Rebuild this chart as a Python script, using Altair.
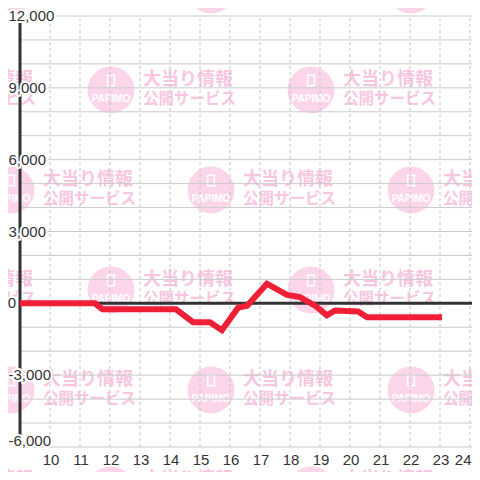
import altair as alt
import pandas as pd

# ---- data ----
hours = [9.0, 11.5, 11.75, 14.2, 14.77, 15.33, 15.73, 16.27, 16.57, 17.23,
         17.9, 18.33, 18.85, 19.23, 19.5, 20.27, 20.57, 23.07]
values = [0, 0, -250, -250, -790, -790, -1120, -180, -100, 820,
          350, 260, -110, -500, -300, -340, -580, -580]
x_ticks = [10, 11, 12, 13, 14, 15, 16, 17, 18, 19, 20, 21, 22, 23, 24]
y_grid = [-6000, -5000, -4000, -3000, -2000, -1000, 0, 1000, 2000, 3000,
          4000, 5000, 6000, 7000, 8000, 9000, 10000, 11000, 12000]
y_labels = [12000, 9000, 6000, 3000, 0, -3000, -6000]
wm_line1 = "大当り情報"
wm_line2 = "公開サービス"
wm_logo = "PAPIMO"

FONT = "Liberation Sans"
FS = 15

# ---- layout ----
W = H = 464
PPH = 30.0                 # px per hour
X0 = 9 - 12 / PPH
X1 = X0 + W / PPH
PPK = 431 / 18.0           # px per 1000
Y1 = 12000 + 8 / PPK * 1000
Y0 = Y1 - H / PPK * 1000

xs = alt.Scale(domain=[X0, X1], nice=False, zero=False)
ys = alt.Scale(domain=[Y0, Y1], nice=False, zero=False)

# ---- watermark tiles (background decoration) ----
tiles = []
for r, py in enumerate([-10, 90, 190, 290, 390, 490]):
    pxs = [11, 211, 411] if r % 2 == 0 else [-89, 111, 311]
    for px in pxs:
        sx, sy = px - 8, py - 8
        tiles.append({"h": X0 + sx / PPH,
                      "v": Y1 - sy / PPK * 1000,
                      "vi": Y1 - (sy - 9.5) / PPK * 1000})
wm = pd.DataFrame(tiles)
wbase = alt.Chart(wm)
wx = alt.X("h:Q", scale=xs, axis=None)
wy = alt.Y("v:Q", scale=ys, axis=None)
circles = wbase.mark_circle(size=3.14159 * 26.5 ** 2, color="#fbd6eb", opacity=1).encode(x=wx, y=wy)
icons = wbase.mark_point(shape="M-0.65,-1L0.65,-1L0.65,1L-0.65,1Z", size=110, filled=False,
                         stroke="white", strokeWidth=1.5, opacity=1).encode(
    x=wx, y=alt.Y("vi:Q", scale=ys, axis=None))
logo = wbase.mark_text(text=wm_logo, font="Liberation Sans", fontWeight="bold", fontSize=10,
                       color="white", dy=9, baseline="middle").encode(x=wx, y=wy)
t1 = wbase.mark_text(text=wm_line1, font="Noto Sans CJK JP", fontWeight="bold", fontSize=18,
                     color="#f8c6e1", align="left", baseline="middle", dx=32, dy=-10.5).encode(x=wx, y=wy)
t2 = wbase.mark_text(text=wm_line2, font="Noto Sans CJK JP", fontWeight="bold", fontSize=15.5,
                     color="#f8c6e1", align="left", baseline="middle", dx=32, dy=9).encode(x=wx, y=wy)

# ---- grid ----
hgrid = alt.Chart(pd.DataFrame({"v": y_grid})).mark_rule(color="#cbcbcb", strokeWidth=1).encode(
    y=alt.Y("v:Q", scale=ys, axis=None),
    x=alt.X(datum=9, scale=xs, axis=None),
    x2=alt.value(W))

xt_df = pd.DataFrame({"h": x_ticks, "t": [str(t) for t in x_ticks]})
vgrid = alt.Chart(xt_df).mark_rule(
    color="#c2c2c2", strokeWidth=1, strokeDash=[3, 3]).encode(
    x=alt.X("h:Q", scale=xs, axis=None),
    y=alt.Y(datum=-6000, scale=ys, axis=None),
    y2=alt.Y2(datum=12000))


def xlab(cond, align, dx):
    return alt.Chart(xt_df).transform_filter(cond).mark_text(
        font=FONT, fontSize=FS, color="#333333", baseline="middle", align=align, dx=dx).encode(
        x=alt.X("h:Q", scale=xs, axis=None),
        y=alt.value(452),
        text="t:N")


xlabels_main = xlab("datum.h < 24", "center", 1)
xlabels_last = xlab("datum.h == 24", "right", 1.5)

one = pd.DataFrame({"h": [9]})
yaxis_line = alt.Chart(one).mark_rule(color="#333333", strokeWidth=3).encode(
    x=alt.X("h:Q", scale=xs, axis=None),
    y=alt.Y(datum=-6000, scale=ys, axis=None),
    y2=alt.Y2(datum=12000))
zero_line = alt.Chart(one).mark_rule(color="#333333", strokeWidth=3).encode(
    x=alt.X("h:Q", scale=xs, axis=None),
    x2=alt.value(W),
    y=alt.Y(datum=0, scale=ys, axis=None))

# ---- series ----
series = alt.Chart(pd.DataFrame({"h": hours, "v": values})).mark_line(
    color="#ee1f36", strokeWidth=6, strokeJoin="miter").encode(
    x=alt.X("h:Q", scale=xs, axis=None),
    y=alt.Y("v:Q", scale=ys, axis=None),
    order="h:Q")

# ---- y labels with white background ----
lab_df = pd.DataFrame({"v": y_labels, "t": [f"{v:,}" for v in y_labels]})


def ylabels(cond, xpix, align, dy=0):
    base = alt.Chart(lab_df).transform_filter(cond)
    enc = dict(y=alt.Y("v:Q", scale=ys, axis=None), x=alt.value(xpix), text="t:N")
    halo = base.mark_text(font=FONT, fontSize=FS, align=align, baseline="middle", dy=dy,
                          color="white", stroke="white", strokeWidth=4, strokeJoin="round").encode(**enc)
    txt = base.mark_text(font=FONT, fontSize=FS, align=align, baseline="middle", dy=dy,
                         color="#333333").encode(**enc)
    return [halo, txt]


lab_layers = []
lab_layers += ylabels("datum.v != 0 && datum.v > -6000", 0.5, "left")
lab_layers += ylabels("datum.v == 0", 8, "right")
lab_layers += ylabels("datum.v == -6000", 0.5, "left", dy=-6)

chart = alt.layer(
    circles, icons, logo, t1, t2,
    hgrid, vgrid, yaxis_line, zero_line, series, xlabels_main, xlabels_last,
    *lab_layers
).properties(
    width=W, height=H,
    autosize=alt.AutoSizeParams(type="none"),
    padding=0,
    background="white",
).configure_view(strokeWidth=0)

chart.save("out.html", embed_options={"renderer": "svg", "actions": False})
